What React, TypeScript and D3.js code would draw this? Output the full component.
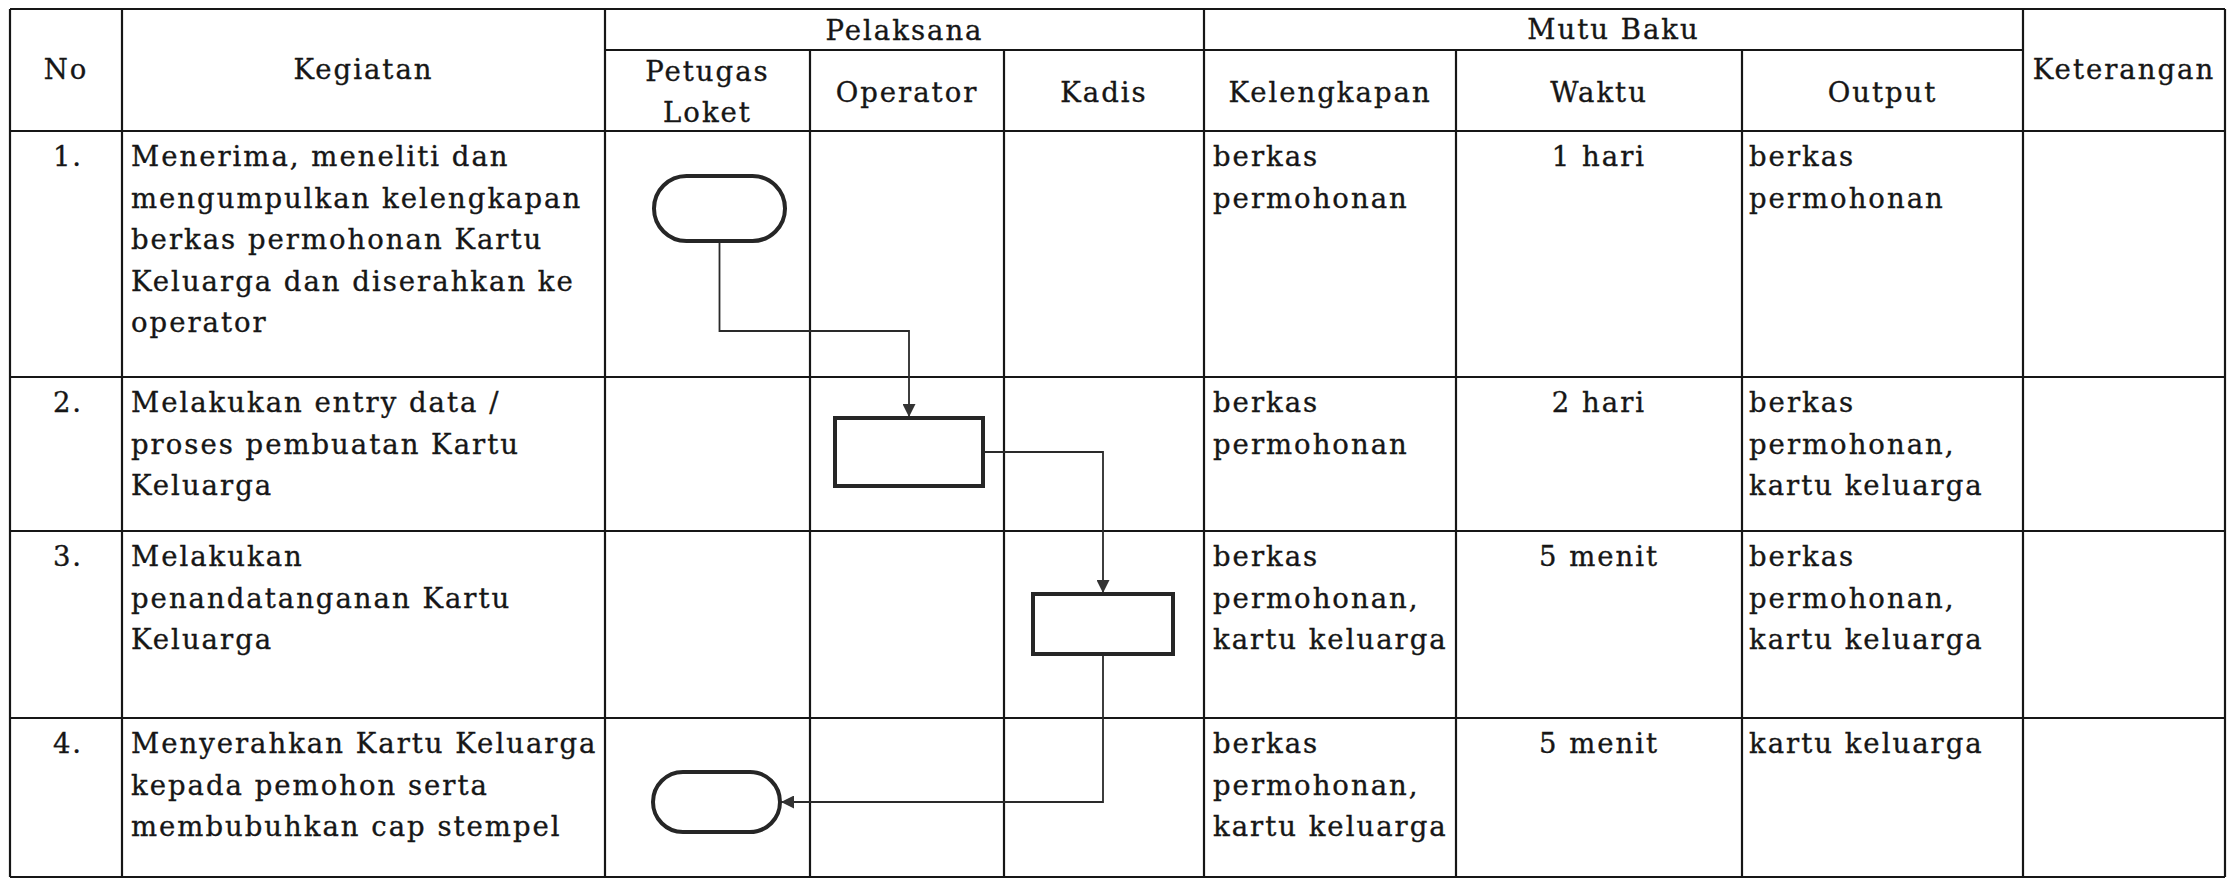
import React from "react";
import * as d3 from "d3";

// ---------- DATA ----------
const headerNo = "No";
const headerKegiatan = "Kegiatan";
const groupPelaksana = "Pelaksana";
const groupMutu = "Mutu Baku";
const headerKeterangan = "Keterangan";
const lanes = ["Petugas Loket", "Operator", "Kadis"];
const laneLabels = [["Petugas", "Loket"], ["Operator"], ["Kadis"]];
const mutuHeaders = ["Kelengkapan", "Waktu", "Output"];

const stepNumbers = ["1.", "2.", "3.", "4."];
const kegiatan = [
  ["Menerima, meneliti dan", "mengumpulkan kelengkapan", "berkas permohonan Kartu", "Keluarga dan diserahkan ke", "operator"],
  ["Melakukan entry data /", "proses pembuatan Kartu", "Keluarga"],
  ["Melakukan", "penandatanganan Kartu", "Keluarga"],
  ["Menyerahkan Kartu Keluarga", "kepada pemohon serta", "membubuhkan cap stempel"],
];
const stepActor = ["Petugas Loket", "Operator", "Kadis", "Petugas Loket"];
const stepShape = ["terminator", "process", "process", "terminator"];
const kelengkapan = [
  ["berkas", "permohonan"],
  ["berkas", "permohonan"],
  ["berkas", "permohonan,", "kartu keluarga"],
  ["berkas", "permohonan,", "kartu keluarga"],
];
const waktu = ["1 hari", "2 hari", "5 menit", "5 menit"];
const output = [
  ["berkas", "permohonan"],
  ["berkas", "permohonan,", "kartu keluarga"],
  ["berkas", "permohonan,", "kartu keluarga"],
  ["kartu keluarga"],
];
const keterangan = ["", "", "", ""];
const connectors = [
  { from: 0, to: 1, route: "down-across-down" },
  { from: 1, to: 2, route: "right-down" },
  { from: 2, to: 3, route: "down-left" },
];

// ---------- LAYOUT ----------
const W = 2234;
const H = 879;
const colKeys = ["no", "kegiatan", ...lanes, ...mutuHeaders, "keterangan"];
const colEdges = [10, 122, 605, 810, 1004, 1204, 1456, 1742, 2023, 2225];
const rowEdges = [9, 131, 377, 531, 718, 877];
const subHeaderY = 50;
const FONT = "'DejaVu Serif', serif";
const FS = 27.5;
const LS = 2.0;
const LINE_H = 41.5;
const INK = "#161616";

const xLeft = d3.scaleOrdinal<string, number>().domain(colKeys).range(colEdges.slice(0, -1));
const xRight = d3.scaleOrdinal<string, number>().domain(colKeys).range(colEdges.slice(1));
const xMid = (k: string) => (xLeft(k) + xRight(k)) / 2;
const rowIdx = d3.range(stepNumbers.length);
const yTop = d3.scaleOrdinal<number, number>().domain(rowIdx).range(rowEdges.slice(1, -1));
const yBot = d3.scaleOrdinal<number, number>().domain(rowIdx).range(rowEdges.slice(2));

// shape geometry (size & vertical position relative to its row)
const shapeW = [131, 148, 140, 127];
const shapeH = [65, 68, 60, 60];
const shapeDy = [45, 41, 63, 54];
const shapeDx = [12, 2, -1, 9];

function shapeBox(i: number) {
  const cx = xMid(stepActor[i]) + shapeDx[i];
  const y = yTop(i) + shapeDy[i];
  return { x: cx - shapeW[i] / 2, y, w: shapeW[i], h: shapeH[i], cx, cy: y + shapeH[i] / 2 };
}

const textStyle = { fontFamily: FONT, fontSize: FS, letterSpacing: LS, fill: INK, stroke: INK, strokeWidth: 0.35 };

function Lines({ lines, x, y, anchor = "start" }: { lines: string[]; x: number; y: number; anchor?: string }) {
  return (
    <text x={x} y={y} textAnchor={anchor} style={textStyle as any}>
      {lines.map((l, i) => (
        <tspan key={i} x={x} dy={i === 0 ? 0 : LINE_H}>
          {l}
        </tspan>
      ))}
    </text>
  );
}

export default function App() {
  const tableLeft = colEdges[0];
  const tableRight = colEdges[colEdges.length - 1];
  const top = rowEdges[0];
  const bottom = rowEdges[rowEdges.length - 1];
  const hdrBot = rowEdges[1];

  const gridLines: { x1: number; y1: number; x2: number; y2: number }[] = [];
  rowEdges.forEach((y) => gridLines.push({ x1: tableLeft, y1: y, x2: tableRight, y2: y }));
  gridLines.push({ x1: xLeft(lanes[0]), y1: subHeaderY, x2: xRight("Output"), y2: subHeaderY });
  colEdges.forEach((x, i) => {
    const k = colKeys[i];
    const isInnerLane = i > 0 && (lanes.includes(k) || mutuHeaders.includes(k)) && k !== lanes[0] && k !== mutuHeaders[0];
    gridLines.push({ x1: x, y1: isInnerLane ? subHeaderY : top, x2: x, y2: bottom });
  });

  const arrowLine = d3.line<[number, number]>();
  const conns = connectors.map((c) => {
    const a = shapeBox(c.from);
    const b = shapeBox(c.to);
    let pts: [number, number][] = [];
    if (c.route === "down-across-down") {
      const midY = yBot(c.from) - 46;
      pts = [[a.cx, a.y + a.h], [a.cx, midY], [b.cx, midY], [b.cx, b.y - 1]];
    } else if (c.route === "right-down") {
      pts = [[a.x + a.w, a.cy], [b.cx, a.cy], [b.cx, b.y - 1]];
    } else {
      pts = [[a.cx, a.y + a.h], [a.cx, b.cy], [b.x + b.w + 1, b.cy]];
    }
    return pts;
  });

  return (
    <svg width={W} height={H} style={{ position: "absolute", left: 0, top: 0, background: "#fff" }}>
      <defs>
        <marker id="arr" viewBox="0 0 10 10" refX="10" refY="5" markerWidth="13" markerHeight="13" markerUnits="userSpaceOnUse" orient="auto">
          <path d="M0,0 L10,5 L0,10 Z" fill="#333" />
        </marker>
      </defs>
      <rect x={0} y={0} width={W} height={H} fill="#fff" />
      {gridLines.map((l, i) => (
        <line key={i} {...l} stroke={INK} strokeWidth={2.2} />
      ))}

      {/* header */}
      <g style={textStyle as any} textAnchor="middle">
        <text x={xMid("no")} y={(top + hdrBot) / 2 + 9}>{headerNo}</text>
        <text x={xMid("kegiatan")} y={(top + hdrBot) / 2 + 9}>{headerKegiatan}</text>
        <text x={(xLeft(lanes[0]) + xRight(lanes[2])) / 2} y={(top + subHeaderY) / 2 + 10}>{groupPelaksana}</text>
        <text x={(xLeft("Kelengkapan") + xRight("Output")) / 2} y={(top + subHeaderY) / 2 + 9}>{groupMutu}</text>
        <text x={xMid("keterangan")} y={(top + hdrBot) / 2 + 9}>{headerKeterangan}</text>
        {lanes.map((k, i) => {
          const lbl = laneLabels[i];
          const cy = (subHeaderY + hdrBot) / 2 + 11 - ((lbl.length - 1) * LINE_H) / 2;
          return (
            <text key={k} x={xMid(k)} y={cy}>
              {lbl.map((t, j) => (
                <tspan key={j} x={xMid(k)} dy={j === 0 ? 0 : LINE_H}>{t}</tspan>
              ))}
            </text>
          );
        })}
        {mutuHeaders.map((k) => (
          <text key={k} x={xMid(k)} y={(subHeaderY + hdrBot) / 2 + 11}>{k}</text>
        ))}
      </g>

      {/* body */}
      {rowIdx.map((i) => {
        const by = yTop(i) + 35;
        return (
          <g key={i}>
            <Lines lines={[stepNumbers[i]]} x={xMid("no") + 2} y={by} anchor="middle" />
            <Lines lines={kegiatan[i]} x={xLeft("kegiatan") + 9} y={by} />
            <Lines lines={kelengkapan[i]} x={xLeft("Kelengkapan") + 9} y={by} />
            <Lines lines={[waktu[i]]} x={xMid("Waktu")} y={by} anchor="middle" />
            <Lines lines={output[i]} x={xLeft("Output") + 7} y={by} />
            <Lines lines={[keterangan[i]]} x={xLeft("keterangan") + 9} y={by} />
          </g>
        );
      })}

      {/* connectors */}
      {conns.map((p, i) => (
        <path key={i} d={arrowLine(p) || ""} fill="none" stroke="#2a2a2a" strokeWidth={1.8} markerEnd="url(#arr)" />
      ))}

      {/* shapes */}
      {rowIdx.map((i) => {
        const b = shapeBox(i);
        const r = stepShape[i] === "terminator" ? b.h / 2 : 0;
        return (
          <rect key={i} x={b.x} y={b.y} width={b.w} height={b.h} rx={r} ry={r} fill="#fff" stroke="#262626" strokeWidth={4} />
        );
      })}
    </svg>
  );
}
